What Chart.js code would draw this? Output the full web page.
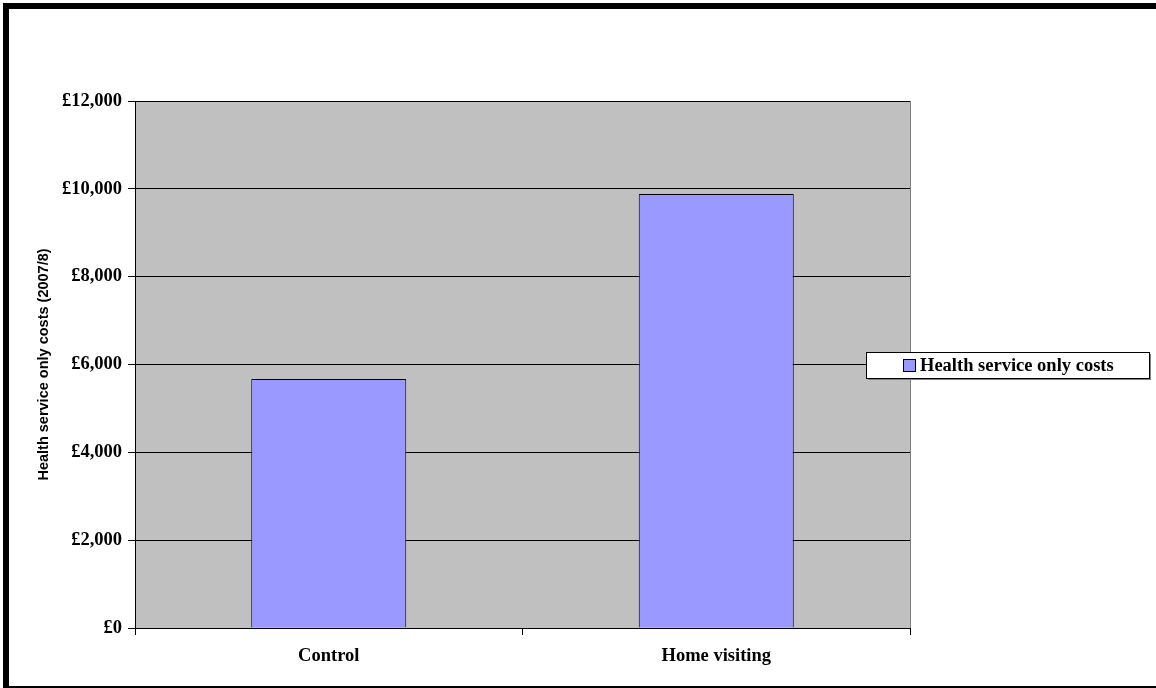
<!DOCTYPE html>
<html>
<head>
<meta charset="utf-8">
<title>Health service only costs</title>
<script src="https://cdn.jsdelivr.net/npm/chart.js@4.4.0/dist/chart.umd.min.js"></script>
<style>
  html, body { margin: 0; padding: 0; background: #fff; overflow: hidden; }
  #wrap { position: relative; width: 1156px; height: 688px; overflow: hidden; }
  /* thick frame round the chart, cut off at the right and bottom of the picture */
  #frame { position: absolute; left: 3px; top: 3px; width: 1200px; height: 689px;
           border: 6px solid #000; box-sizing: border-box; }
  #chart { position: absolute; left: 0; top: 0; }
</style>
</head>
<body>
<div id="wrap">
  <div id="frame"></div>
  <canvas id="chart" width="1156" height="688"></canvas>
</div>
<script>
// ---- data ----
const categories = ['Control', 'Home visiting'];
const costs = [5670, 9880];
const seriesLabel = 'Health service only costs';
const yTickValues = [0, 2000, 4000, 6000, 8000, 10000, 12000];
const yTitle = 'Health service only costs (2007/8)';

const serif = "'Liberation Serif', 'Times New Roman', serif";
const sans = "'Liberation Sans', Arial, sans-serif";
const barFill = '#9999FF';

Chart.defaults.font.family = serif;
Chart.defaults.color = '#000';

// grey plot area with a grey right-hand edge
const plotArea = {
    id: 'plotArea',
    beforeDraw(chart) {
        const { ctx, chartArea: a } = chart;
        ctx.save();
        ctx.fillStyle = '#C0C0C0';
        ctx.fillRect(a.left, a.top, a.right - a.left, a.bottom - a.top);
        ctx.restore();
    },
    beforeDatasetsDraw(chart) {
        const { ctx, chartArea: a } = chart;
        ctx.save();
        ctx.strokeStyle = '#808080';
        ctx.lineWidth = 1;
        ctx.beginPath();
        ctx.moveTo(Math.round(a.right) + 0.5, a.top);
        ctx.lineTo(Math.round(a.right) + 0.5, a.bottom);
        ctx.stroke();
        ctx.restore();
    }
};

// boxed legend sitting over the right edge of the plot
const boxLegend = {
    id: 'boxLegend',
    afterDraw(chart) {
        const ctx = chart.ctx;
        const x = 866, y = 352, w = 283, h = 26;
        ctx.save();
        ctx.fillStyle = '#808080';
        ctx.fillRect(x + 2, y + 2, w, h);
        ctx.fillStyle = '#fff';
        ctx.fillRect(x, y, w, h);
        ctx.strokeStyle = '#000';
        ctx.lineWidth = 1;
        ctx.strokeRect(x + 0.5, y + 0.5, w, h);

        ctx.fillStyle = barFill;
        ctx.fillRect(903, 359, 12, 12);
        ctx.strokeRect(903.5, 359.5, 12, 12);

        ctx.fillStyle = '#000';
        ctx.font = "bold 18.5px " + serif;
        ctx.textBaseline = 'middle';
        ctx.textAlign = 'left';
        ctx.fillText(chart.data.datasets[0].label, 920, y + h / 2 + 1);
        ctx.restore();
    }
};

new Chart(document.getElementById('chart'), {
    type: 'bar',
    data: {
        labels: categories,
        datasets: [{
            label: seriesLabel,
            data: costs,
            backgroundColor: barFill,
            borderColor: '#000',
            borderWidth: 1,
            barPercentage: 0.4,
            categoryPercentage: 1
        }]
    },
    options: {
        responsive: false,
        animation: false,
        devicePixelRatio: 1,
        layout: { padding: { left: 0, top: 101, right: 246, bottom: 0 } },
        plugins: {
            legend: { display: false },
            tooltip: { enabled: false }
        },
        scales: {
            x: {
                grid: { drawOnChartArea: false, color: '#000', tickLength: 7, offset: true },
                border: { color: '#000', width: 1 },
                ticks: { font: { size: 18.5, weight: 'bold' }, color: '#000', padding: 10 },
                afterFit(scale) { scale.height = 60; }
            },
            y: {
                min: yTickValues[0],
                max: yTickValues[yTickValues.length - 1],
                ticks: {
                    stepSize: yTickValues[1] - yTickValues[0],
                    font: { size: 18.5, weight: 'bold' },
                    color: '#000',
                    padding: 6,
                    callback: v => '£' + v.toLocaleString('en-GB')
                },
                grid: { color: '#000', tickLength: 7 },
                border: { color: '#000', width: 1 },
                title: {
                    display: true,
                    text: yTitle,
                    color: '#000',
                    font: { family: sans, size: 14.5, weight: 'bold' },
                    padding: { top: 35, bottom: 0 }
                },
                afterFit(scale) { scale.width = 135; }
            }
        }
    },
    plugins: [plotArea, boxLegend]
});
</script>
</body>
</html>
